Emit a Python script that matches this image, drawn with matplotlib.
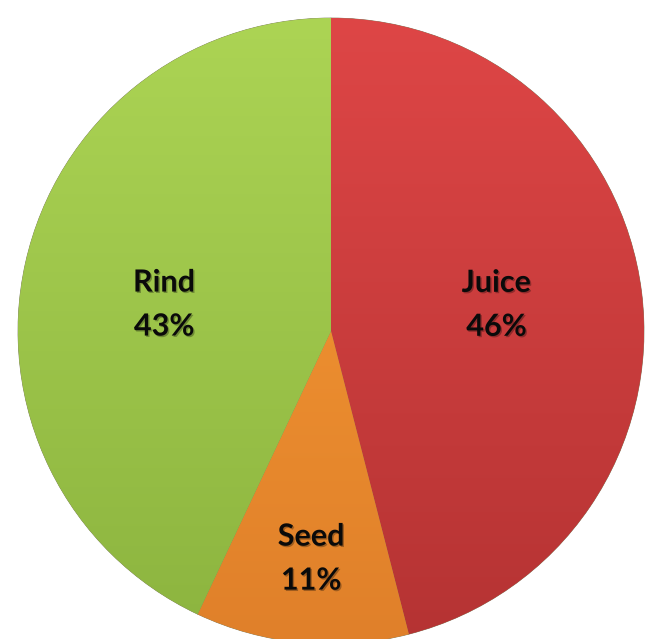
import numpy as np
import matplotlib
matplotlib.use("Agg")
import matplotlib.pyplot as plt
import matplotlib.patheffects as pe
from matplotlib.colors import LinearSegmentedColormap

labels = ["Juice", "Seed", "Rind"]
values = [46, 11, 43]
top_colors = ["#de4646", "#f79b34", "#acd454"]
bottom_colors = ["#b53333", "#e0802a", "#8cb43f"]
base_colors = ["#cf3f3f", "#f08c2e", "#9cc44a"]

W, H = 656, 639
fig = plt.figure(figsize=(W / 100, H / 100), dpi=100)
ax = fig.add_axes([0, 0, 1, 1])

cx, cy, r = 331, H - 331, 313
wedges, _ = ax.pie(values, colors=base_colors, startangle=90, counterclock=False,
                   center=(cx, cy), radius=r, frame=True,
                   wedgeprops=dict(edgecolor="#7a7a5a", linewidth=0.5))
ax.set_xlim(0, W)
ax.set_ylim(0, H)
ax.set_aspect("equal")
ax.axis("off")

for w, tc, bc in zip(wedges, top_colors, bottom_colors):
    cmap = LinearSegmentedColormap.from_list("g", [bc, tc])
    grad = np.linspace(0, 1, 256).reshape(-1, 1)
    im = ax.imshow(grad, cmap=cmap, extent=(cx - r, cx + r, cy - r, cy + r),
                   origin="lower", aspect="auto", zorder=w.get_zorder() + 0.1)
    im.set_clip_path(w)

# label placement: (fraction of radius, angle in degrees)
label_pos = [(0.535, 9.0), (0.73, -95.0), (0.54, 171.0)]
for lab, v, (f, a) in zip(labels, values, label_pos):
    x = cx + f * r * np.cos(np.radians(a))
    y = cy + f * r * np.sin(np.radians(a))
    for txt, dy in ((lab, 22), (f"{v}%", -22)):
        ax.text(x, y + dy, txt, ha="center", va="center", fontsize=22,
                fontweight="bold", family=["Lato", "DejaVu Sans"], color="#0a0a0a",
                zorder=10,
                path_effects=[pe.withSimplePatchShadow(offset=(1, -1), alpha=0.3)])

fig.savefig("out.png", dpi=100, facecolor="white")
